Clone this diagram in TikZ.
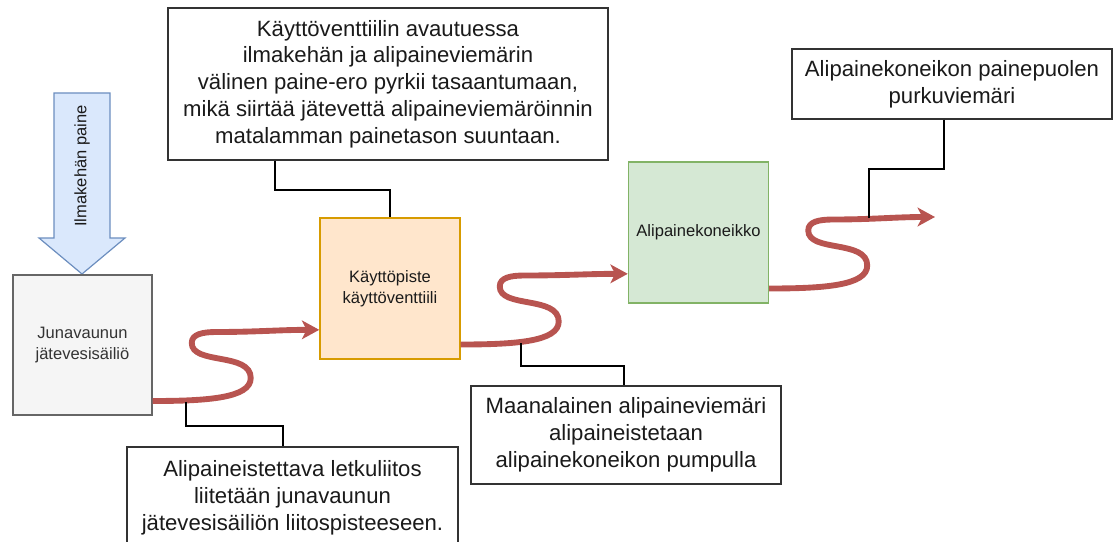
\documentclass[tikz,border=0pt]{standalone}
\usepackage{fontspec}
\setmainfont{Liberation Sans}
\usetikzlibrary{arrows.meta}
\definecolor{flow}{HTML}{B85450}
\definecolor{ink}{HTML}{1A1A1A}
\definecolor{tankfill}{HTML}{F5F5F5}
\definecolor{tankline}{HTML}{666666}
\definecolor{valvefill}{HTML}{FFE6CC}
\definecolor{valveline}{HTML}{D79B00}
\definecolor{pumpfill}{HTML}{D5E8D4}
\definecolor{pumpline}{HTML}{82B366}
\definecolor{airfill}{HTML}{DAE8FC}
\definecolor{airline}{HTML}{6C8EBF}
\definecolor{frame}{HTML}{333333}
\begin{document}
\begin{tikzpicture}[x=0.75pt,y=-0.75pt,
  bigtext/.style={font=\fontsize{16.6}{20.1}\selectfont, text=ink, align=center},
  smalltext/.style={font=\fontsize{12.4}{15.8}\selectfont, text=ink, align=center},
  notebox/.style={draw=frame, line width=1.1pt, fill=white, bigtext, inner sep=0pt},
  unitbox/.style={line width=1.1pt, smalltext, inner sep=0pt,
    minimum width=105pt, minimum height=105.5pt},
  flowarrow/.style={draw=flow, line width=4.4pt,
    -{Stealth[length=13pt, width=14pt, inset=3.5pt]}},
  leader/.style={draw=black, line width=0.95pt}]
\useasboundingbox (0,0) rectangle (1114,542);
\clip (0,0) rectangle (1114,542);

% atmospheric pressure arrow
\draw[fill=airfill, draw=airline, line width=0.9pt]
  (54,93) -- (110,93) -- (110,238) -- (125,238) -- (82,274) -- (39,238) -- (54,238) -- cycle;
\node[smalltext, rotate=90] (air) at (82,166) {Ilmakehän paine};

% process units
\node[unitbox, draw=tankline, fill=tankfill, text=frame, minimum width=104.25pt, minimum height=105pt]
  (tank) at (82.5,345) {Junavaunun\\jätevesisäiliö};
\node[unitbox, draw=valveline, fill=valvefill] (valve) at (390,288.5) {Käyttöpiste\\käyttöventtiili};
\node[unitbox, draw=pumpline, fill=pumpfill] (pump) at (698.5,232.5) {Alipainekoneikko};

% explanatory notes
\node[notebox, minimum width=330pt, minimum height=114pt] (topnote) at (388,84)
  {Käyttöventtiilin avautuessa\\ilmakehän ja alipaineviemärin\\välinen paine-ero pyrkii tasaantumaan,\\mikä siirtää jätevettä alipaineviemäröinnin\\matalamman painetason suuntaan.};
\node[notebox, minimum width=240pt, minimum height=52.5pt] (outnote) at (952,84)
  {Alipainekoneikon painepuolen\\purkuviemäri};
\node[notebox, minimum width=232.5pt, minimum height=73.5pt] (sewnote) at (626,435)
  {Maanalainen alipaineviemäri\\alipaineistetaan\\alipainekoneikon pumpulla};
\node[notebox, minimum width=248.25pt, minimum height=75.75pt] (joinnote) at (292.5,497.5)
  {Alipaineistettava letkuliitos\\liitetään junavaunun\\jätevesisäiliön liitospisteeseen.};

% wavy flow arrows
\coordinate (outlet) at (935,217);
\draw[flowarrow] ([yshift=-42pt]tank.east)
  .. controls +(55,0) and +(0,20) .. ++(98,-23)
  .. controls +(0,-26) and +(0,22) .. ++(-59,-35)
  .. controls +(0,-9) and +(-14,0) .. ++(25,-11)
  .. controls +(40,0) and +(-40,0) .. ([yshift=-31pt]valve.west);
\draw[flowarrow] ([yshift=-42pt]valve.east)
  .. controls +(55,0) and +(0,20) .. ++(98,-23)
  .. controls +(0,-26) and +(0,22) .. ++(-59,-35)
  .. controls +(0,-9) and +(-14,0) .. ++(25,-11)
  .. controls +(40,0) and +(-40,0) .. ([yshift=-31pt]pump.west);
\draw[flowarrow] ([yshift=-42pt]pump.east)
  .. controls +(55,0) and +(0,20) .. ++(98,-23)
  .. controls +(0,-26) and +(0,22) .. ++(-59,-35)
  .. controls +(0,-9) and +(-14,0) .. ++(25,-11)
  .. controls +(40,0) and +(-40,0) .. (outlet);

% leader lines from the notes
\coordinate (k1) at (275,190);
\coordinate (k2) at (624,366);
\coordinate (k3) at (944,169);
\coordinate (k4) at (283,426);
\coordinate (a1) at (186,402);
\coordinate (a2) at (521,343);
\coordinate (a3) at (869,218);
\draw[leader] (topnote.south -| k1) -- (k1) -| (valve.north);
\draw[leader] (a2) |- (k2) -- (sewnote.north -| k2);
\draw[leader] (outnote.south -| k3) -- (k3) -| (a3);
\draw[leader] (a1) |- (k4) -- (joinnote.north -| k4);
\end{tikzpicture}
\end{document}
